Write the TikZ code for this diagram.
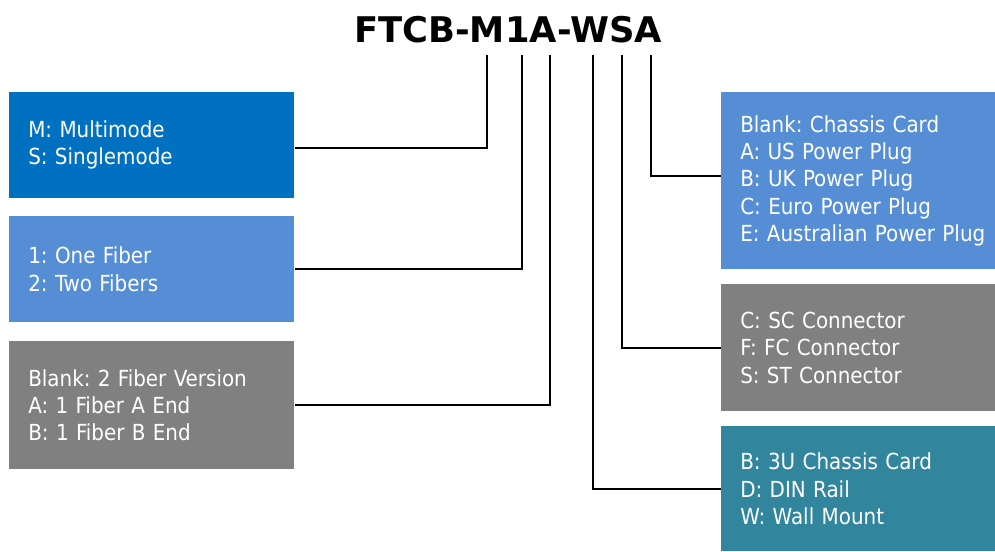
\documentclass[tikz,border=0pt]{standalone}
\usepackage{fontspec}
\setmainfont{DejaVu Sans Condensed}
\newfontfamily\titlefont{DejaVu Sans}
\definecolor{cDark}{HTML}{0070C0}
\definecolor{cLight}{HTML}{558ED5}
\definecolor{cGray}{HTML}{808080}
\definecolor{cTeal}{HTML}{31859C}
\begin{document}
\frenchspacing
\begin{tikzpicture}[x=0.75pt,y=-0.75pt,
  infobox/.style={draw=none, text=white, align=left, anchor=north west,
    inner xsep=14.25pt, inner ysep=0pt,
    font=\fontsize{16.6}{20.4}\selectfont},
  leftbox/.style={infobox, text width=185.25pt, minimum width=213.75pt},
  rightbox/.style={infobox, text width=196pt, minimum width=224.5pt},
  conn/.style={draw=black, line width=1.5pt}]
\useasboundingbox (0,0) rectangle (995,551);
\node[font=\titlefont\bfseries\fontsize{26.5}{30}\selectfont, anchor=center] (title) at (508,30) {FTCB-M1A-WSA};
\node[leftbox, fill=cDark, minimum height=79.5pt] (b1) at (9,92) {M: Multimode\\S: Singlemode};
\node[leftbox, fill=cLight, minimum height=79.5pt] (b2) at (9,216) {1: One Fiber\\2: Two Fibers};
\node[leftbox, fill=cGray, minimum height=96pt] (b3) at (9,341) {Blank: 2 Fiber Version\\A: 1 Fiber A End\\B: 1 Fiber B End};
\node[rightbox, fill=cLight, minimum height=132.75pt] (b4) at (721,92) {Blank: Chassis Card\\A: US Power Plug\\B: UK Power Plug\\C: Euro Power Plug\\E: Australian Power Plug};
\node[rightbox, fill=cGray, minimum height=95.25pt] (b5) at (721,284) {C: SC Connector\\F: FC Connector\\S: ST Connector};
\node[rightbox, fill=cTeal, minimum height=93.75pt] (b6) at (721,426) {B: 3U Chassis Card\\D: DIN Rail\\W: Wall Mount};
\coordinate (t1) at (487,55);
\coordinate (t2) at (522,55);
\coordinate (t3) at (550,55);
\coordinate (t4) at (593,55);
\coordinate (t5) at (622,55);
\coordinate (t6) at (651,55);
\draw[conn] (t1) |- ([yshift=-2.25pt]b1.east);
\draw[conn] (t2) |- (b2.east);
\draw[conn] (t3) |- (b3.east);
\draw[conn] (t6) |- ([yshift=3.4pt]b4.west);
\draw[conn] (t5) |- (b5.west);
\draw[conn] (t4) |- (b6.west);
\end{tikzpicture}
\end{document}
